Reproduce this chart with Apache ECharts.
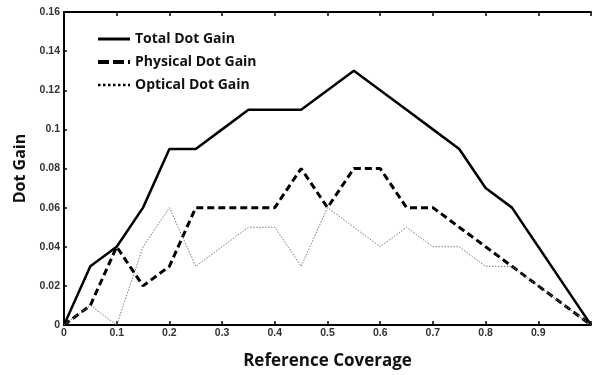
<!DOCTYPE html>
<html><head><meta charset="utf-8">
<script src="https://cdn.jsdelivr.net/npm/echarts@6/dist/echarts.min.js"></script>
<style>html,body{margin:0;padding:0;background:#fff}#c{width:594px;height:375px}</style>
</head><body><div id="c"></div>
<script>
const coverage = [0,0.05,0.1,0.15,0.2,0.25,0.3,0.35,0.4,0.45,0.5,0.55,0.6,0.65,0.7,0.75,0.8,0.85,0.9,0.95,1.0];
const totalGain    = [0,0.03,0.04,0.06,0.09,0.09,0.10,0.11,0.11,0.11,0.12,0.13,0.12,0.11,0.10,0.09,0.07,0.06,0.04,0.02,0];
const physicalGain = [0,0.01,0.04,0.02,0.03,0.06,0.06,0.06,0.06,0.08,0.06,0.08,0.08,0.06,0.06,0.05,0.04,0.03,0.02,0.01,0];
const opticalGain  = [0,0.01,0,0.04,0.06,0.03,0.04,0.05,0.05,0.03,0.06,0.05,0.04,0.05,0.04,0.04,0.03,0.03,0.02,0.01,0];
const seriesNames = ['Total Dot Gain','Physical Dot Gain','Optical Dot Gain'];
const xTitle = 'Reference Coverage';
const yTitle = 'Dot Gain';

const pair = (ys) => coverage.map((x,i)=>[x,ys[i]]);
const chart = echarts.init(document.getElementById('c'));
const lab = {fontFamily:'Liberation Sans, Arial', fontWeight:'bold', fontSize:10.5, color:'#333'};
chart.setOption({
  animation:false,
  grid:{left:64, top:12, width:533, height:315},
  legend:{
    orient:'vertical', left:91, top:27, itemWidth:32, itemHeight:12, itemGap:9,
    textStyle:{fontFamily:'Open Sans', fontWeight:'bold', fontSize:14, color:'#111'},
    itemStyle:{opacity:0},
    data:[
      {name:seriesNames[0], lineStyle:{width:3}},
      {name:seriesNames[1], lineStyle:{width:4, type:[11,4]}},
      {name:seriesNames[2], lineStyle:{width:2.5, color:'#000', type:[2.5,2.5]}}
    ]
  },
  xAxis:[{
    type:'value', min:0, max:1, interval:0.1, position:'bottom',
    name:xTitle, nameLocation:'middle', nameGap:28,
    nameTextStyle:{fontFamily:'Open Sans', fontWeight:'bold', fontSize:17, color:'#111'},
    axisLine:{lineStyle:{color:'#000', width:2}},
    axisTick:{inside:true, length:4, lineStyle:{color:'#000', width:1.5}},
    axisLabel:{...lab, margin:3, formatter:v=> v>=0.999 ? '' : String(+v.toFixed(1))},
    splitLine:{show:false}
  },{
    type:'value', min:0, max:1, interval:0.1, position:'top',
    axisLine:{lineStyle:{color:'#000', width:2}},
    axisTick:{inside:true, length:4, lineStyle:{color:'#000', width:1.5}},
    axisLabel:{show:false}, splitLine:{show:false}
  }],
  yAxis:{
    type:'value', min:0, max:0.16, interval:0.02,
    name:yTitle, nameLocation:'middle', nameGap:36,
    nameTextStyle:{fontFamily:'Open Sans', fontWeight:'bold', fontSize:16, color:'#111'},
    axisLine:{show:true, lineStyle:{color:'#000', width:2}},
    axisTick:{show:true, inside:true, length:3, lineStyle:{color:'#000', width:1.5}},
    axisLabel:{...lab, margin:4, formatter:v=>String(+v.toFixed(2))},
    splitLine:{show:false}
  },
  series:[
    {name:seriesNames[0], type:'line', data:pair(totalGain), symbol:'none',
     lineStyle:{color:'#000', width:2.5, type:'solid'}, itemStyle:{color:'#000'}},
    {name:seriesNames[1], type:'line', data:pair(physicalGain), symbol:'none',
     lineStyle:{color:'#000', width:3, type:[7,4]}, itemStyle:{color:'#000'}},
    {name:seriesNames[2], type:'line', data:pair(opticalGain), symbol:'none',
     lineStyle:{color:'#777', width:1, type:[1.5,1.5]}, itemStyle:{color:'#777'}}
  ]
});
</script></body></html>
